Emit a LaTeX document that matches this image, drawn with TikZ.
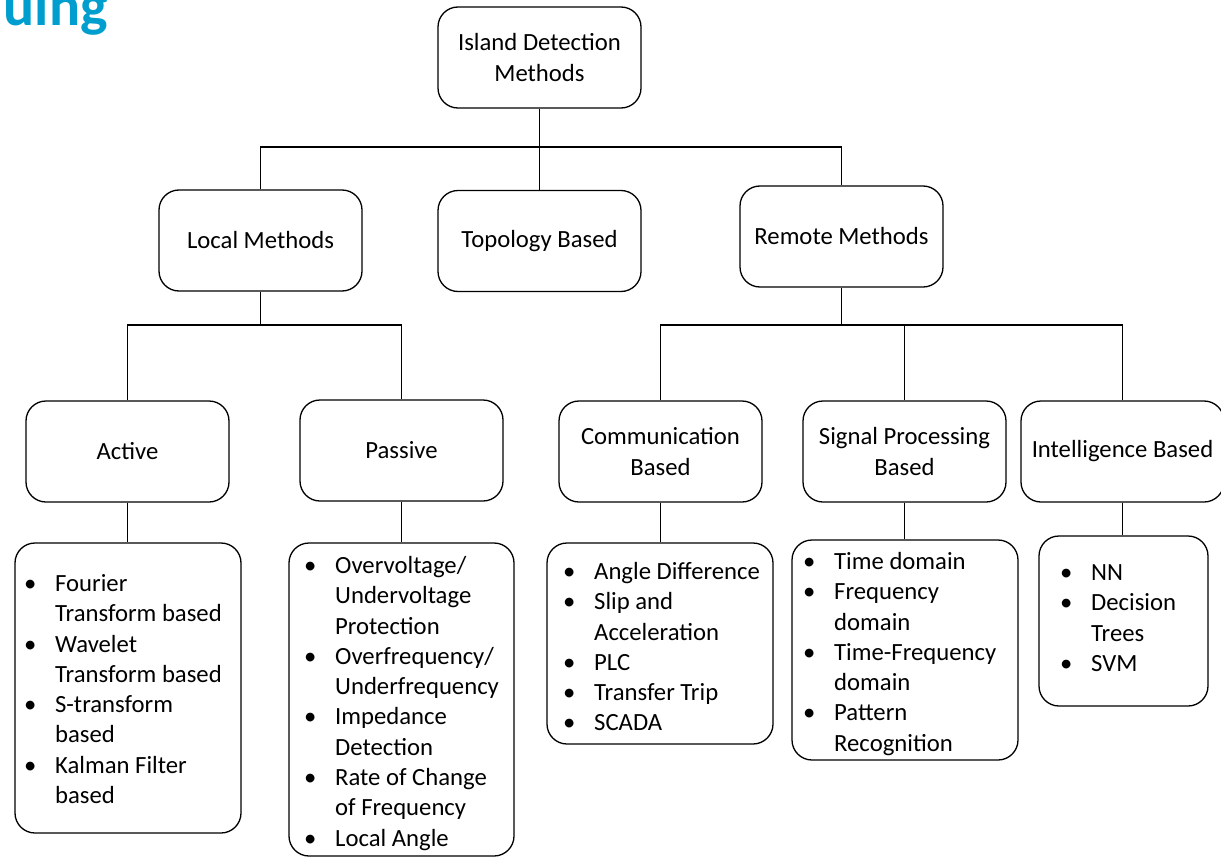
\documentclass[tikz,border=0pt]{standalone}
\usepackage{fontspec}
\setmainfont{Carlito}
\usetikzlibrary{calc}
\definecolor{headcyan}{RGB}{0,158,206}
\newcommand\bl{\makebox[25bp][l]{\hspace{-6bp}\textbullet}}
\begin{document}
\begin{tikzpicture}[x=1bp,y=-1bp,
  every node/.style={font=\fontsize{24.7bp}{30.3bp}\selectfont},
  catbox/.style={draw, line width=1.3bp, rounded corners=20bp, minimum width=203bp,
    minimum height=101bp, inner sep=0pt, align=center},
  listbox/.style={draw, line width=1.3bp, rounded corners=20bp, inner sep=0pt},
  listtext/.style={anchor=north west, inner sep=0pt},
  link/.style={line width=1.3bp}]
\useasboundingbox (0,0) rectangle (1221,858);
\clip (0,0) rectangle (1221,858);

% heading fragment
\node[anchor=base east, inner sep=0pt, text=headcyan,
  font=\fontsize{58bp}{60bp}\selectfont\bfseries] (head) at (108,25) {uing};

% category boxes
\node[catbox] (root)   at (539.5,57.5)  {Island Detection\\Methods};
\node[catbox] (local)  at (260.5,240.5) {Local Methods};
\node[catbox] (topo)   at (539.5,241)   {Topology Based};
\node[catbox] (remote) at (841.5,236.5) {Remote Methods};
\node[catbox] (active) at (127.5,451.5) {Active};
\node[catbox] (passive) at (401.5,450.5) {Passive};
\node[catbox] (comm)   at (660.5,451.5) {Communication\\Based};
\node[catbox] (signal) at (904.5,451.5) {Signal Processing\\Based};
\node[catbox] (intel)  at (1122.5,451.5) {Intelligence Based};

% list boxes
\node[listbox, minimum width=226bp, minimum height=290bp] (l1) at (128,688) {};
\node[listbox, minimum width=225bp, minimum height=313bp] (l2) at (401.5,699.5) {};
\node[listbox, minimum width=226bp, minimum height=201bp] (l3) at (660,643.5) {};
\node[listbox, minimum width=226bp, minimum height=220bp] (l4) at (905,650) {};
\node[listbox, minimum width=169bp, minimum height=170bp] (l5) at (1123.5,621) {};

\node[listtext] (t1) at (30,570) {\begin{tabular}[t]{@{}l@{}l@{}}
  \bl & Fourier\\ & Transform based\\
  \bl & Wavelet\\ & Transform based\\
  \bl & S-transform\\ & based\\
  \bl & Kalman Filter\\ & based\end{tabular}};
\node[listtext] (t2) at (310,552) {\begin{tabular}[t]{@{}l@{}l@{}}
  \bl & Overvoltage/\\ & Undervoltage\\ & Protection\\
  \bl & Overfrequency/\\ & Underfrequency\\
  \bl & Impedance\\ & Detection\\
  \bl & Rate of Change\\ & of Frequency\\
  \bl & Local Angle\end{tabular}};
\node[listtext] (t3) at (569,558) {\begin{tabular}[t]{@{}l@{}l@{}}
  \bl & Angle Difference\\
  \bl & Slip and\\ & Acceleration\\
  \bl & PLC\\
  \bl & Transfer Trip\\
  \bl & SCADA\end{tabular}};
\node[listtext] (t4) at (809,548) {\begin{tabular}[t]{@{}l@{}l@{}}
  \bl & Time domain\\
  \bl & Frequency\\ & domain\\
  \bl & Time-Frequency\\ & domain\\
  \bl & Pattern\\ & Recognition\end{tabular}};
\node[listtext] (t5) at (1066,559) {\begin{tabular}[t]{@{}l@{}l@{}}
  \bl & NN\\
  \bl & Decision\\ & Trees\\
  \bl & SVM\end{tabular}};

% junction points of the tree
\coordinate (j1) at (539.5,147);
\coordinate (j2) at (260.5,325);
\coordinate (j3) at (841.5,325);

% connectors
\draw[link] (root.south) -- (topo.north);
\draw[link] (local.north) |- (j1) -| (remote.north);
\draw[link] (local.south) -- (j2);
\draw[link] (active.north) |- (j2) -| (passive.north);
\draw[link] (remote.south) -- (j3);
\draw[link] (comm.north) |- (j3) -| (intel.north);
\draw[link] (signal.north) -- (signal.north |- j3);
\draw[link] (active.south) -- (active.south |- l1.north);
\draw[link] (passive.south) -- (passive.south |- l2.north);
\draw[link] (comm.south) -- (comm.south |- l3.north);
\draw[link] (signal.south) -- (signal.south |- l4.north);
\draw[link] (intel.south) -- (intel.south |- l5.north);
\end{tikzpicture}
\end{document}
